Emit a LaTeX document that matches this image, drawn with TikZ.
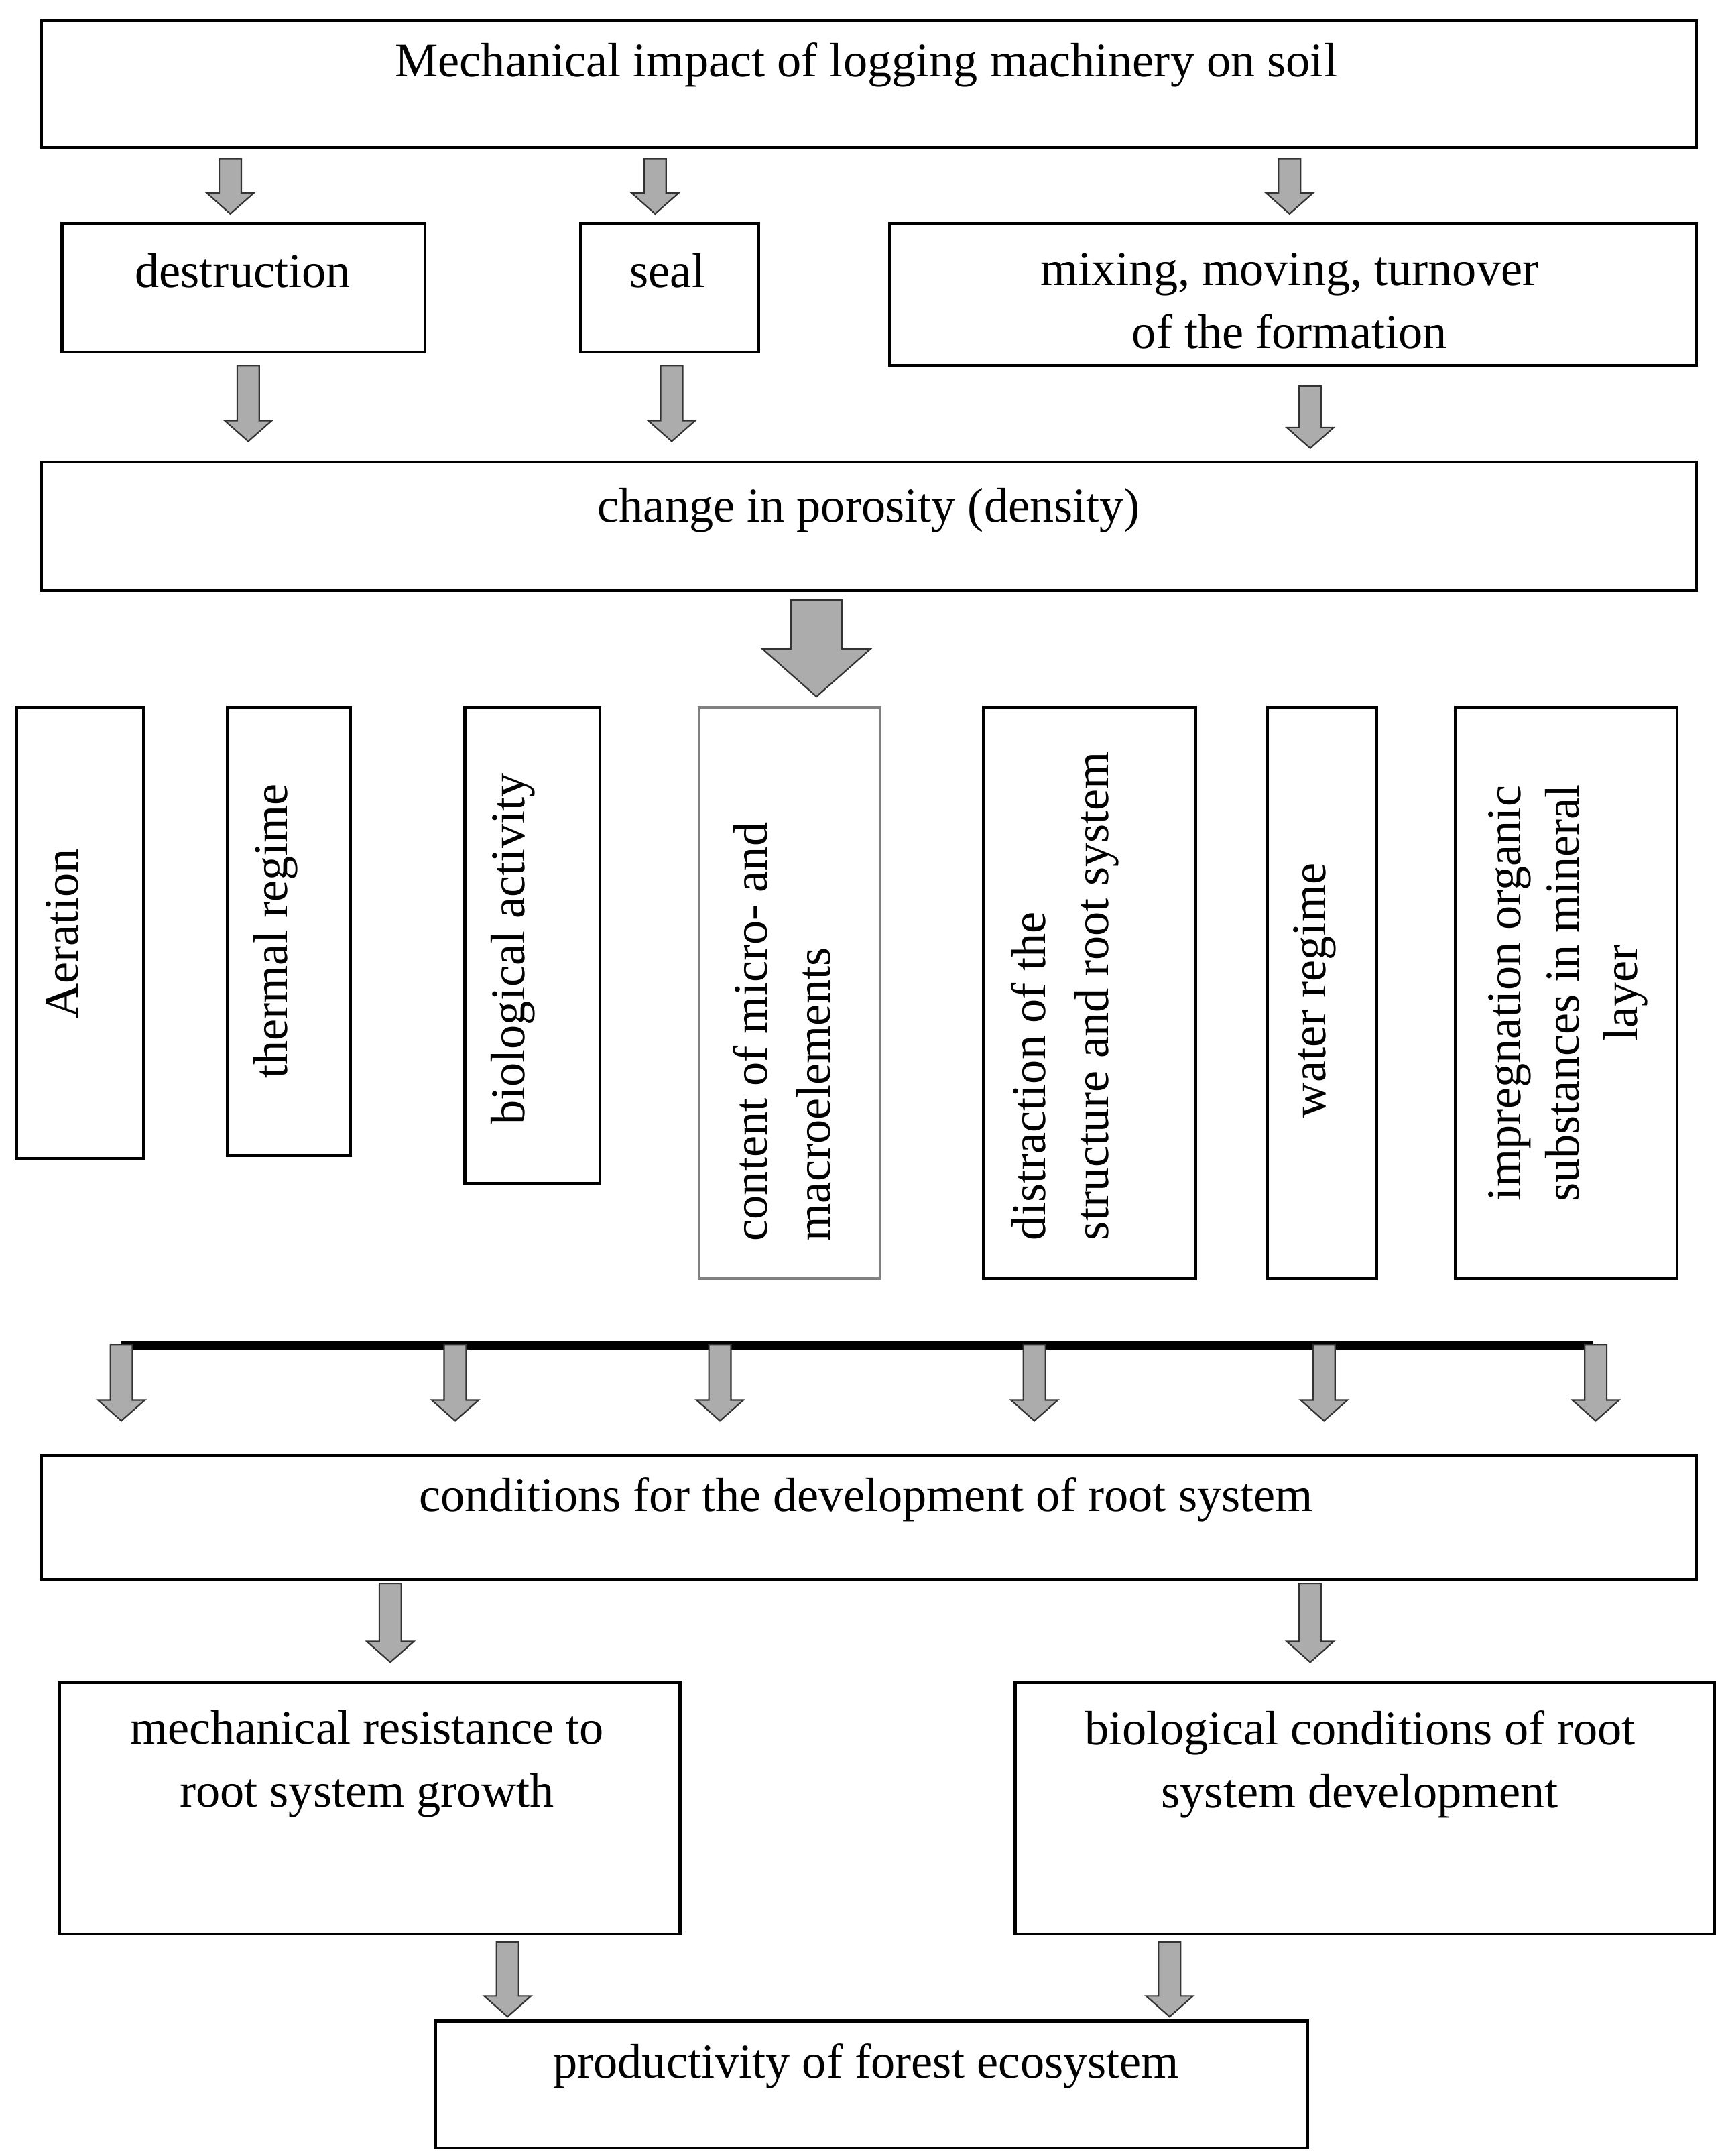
\documentclass[tikz,border=0pt]{standalone}
\usepackage{fontspec}
\setmainfont{Liberation Serif}
\begin{document}
\begin{tikzpicture}[x=0.02cm,y=-0.02cm,
 bx/.style={draw=black,line width=1.2pt},
 t/.style={font=\fontsize{20}{26}\selectfont,align=center},
 vt/.style={font=\fontsize{20}{26}\selectfont,align=left,rotate=90}]
\useasboundingbox (0,0) rectangle (1250,1563);
\newcommand{\darr}[4]{% x, y1, y2, halfwidth scale
 \fill[gray!65,draw=gray!40!black,line width=0.6pt]
 ({#1-8*#4},#2) -- ({#1+8*#4},#2) -- ({#1+8*#4},{#3-15*#4}) -- ({#1+17*#4},{#3-15*#4})
 -- (#1,#3) -- ({#1-17*#4},{#3-15*#4}) -- ({#1-8*#4},{#3-15*#4}) -- cycle;}
% top
\draw[bx] (30,15) rectangle (1230,107);
\node[t] (top) at (628,47) {Mechanical impact of logging machinery on soil};
\darr{167}{115}{155}{1}\darr{475}{115}{155}{1}\darr{935}{115}{155}{1}
\draw[bx] (45,162) rectangle (308,255); \node[t] (d) at (176,196) {destruction};
\draw[bx] (421,162) rectangle (550,255); \node[t] (s) at (484,196) {seal};
\draw[bx] (645,162) rectangle (1230,265); \node[t] (m) at (935,218) {mixing, moving, turnover\\of the formation};
\darr{180}{265}{320}{1}\darr{487}{265}{320}{1}\darr{950}{280}{325}{1}
\draw[bx] (30,335) rectangle (1230,428); \node[t] (p) at (630,370) {change in porosity (density)};
\darr{592}{435}{505}{2.3}
% vertical boxes
\draw[bx] (12,513) rectangle (104,840); \node[vt] (v1) at (45,677) {Aeration};
\draw[bx] (165,513) rectangle (254,838); \node[vt] (v2) at (200,675) {thermal regime};
\draw[bx] (337,513) rectangle (435,858); \node[vt] (v3) at (372,688) {biological activity};
\draw[draw=gray,line width=1.2pt] (507,513) rectangle (638,927); \node[vt] (v4) at (567,748) {content of micro- and\\macroelements};
\draw[bx] (713,513) rectangle (867,927); \node[vt] (v5) at (772,722) {distraction of the\\structure and root system};
\draw[bx] (919,513) rectangle (998,927); \node[vt] (v6) at (953,718) {water regime};
\draw[bx] (1055,513) rectangle (1216,927); \node[vt,align=center,font=\fontsize{20}{24}\selectfont] (v7) at (1137,720) {impregnation organic\\substances in mineral\\layer};
\draw[line width=3.5pt] (88,975) -- (1155,975);
\darr{88}{975}{1030}{1}\darr{330}{975}{1030}{1}\darr{522}{975}{1030}{1}
\darr{750}{975}{1030}{1}\darr{960}{975}{1030}{1}\darr{1157}{975}{1030}{1}
\draw[bx] (30,1055) rectangle (1230,1145); \node[t] (c) at (628,1087) {conditions for the development of root system};
\darr{283}{1148}{1205}{1}\darr{950}{1148}{1205}{1}
\draw[bx] (43,1220) rectangle (493,1402); \node[t] (r1) at (266,1279) {mechanical resistance to\\root system growth};
\draw[bx] (736,1220) rectangle (1243,1402); \node[t] (r2) at (986,1279) {biological conditions of root\\system development};
\darr{368}{1408}{1462}{1}\darr{848}{1408}{1462}{1}
\draw[bx] (316,1465) rectangle (948,1557); \node[t] (f) at (628,1498) {productivity of forest ecosystem};
\end{tikzpicture}
\end{document}
